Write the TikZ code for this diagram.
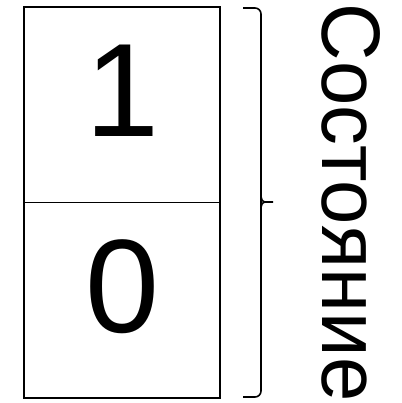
\documentclass[tikz,border=0pt]{standalone}
\usepackage{fontspec}
\setmainfont{Liberation Sans}
\newfontfamily\statefont[FakeStretch=0.96]{Liberation Sans}
\usetikzlibrary{positioning}
\tikzset{
  cell/.style={draw, line width=1.6pt, outer sep=0pt, minimum width=196pt, minimum height=195.5pt,
    font=\fontsize{133}{133}\selectfont, text height=95pt, text depth=31pt},
  brace/.style={line width=1.6pt}
}
\begin{document}
\begin{tikzpicture}[x=1pt,y=-1pt]
\useasboundingbox (0,0) rectangle (401,403);
\node[cell] (one) at (122,104.75) {1};
\node[cell, below=0pt of one] (zero) {0};
%cells

\coordinate (brtop) at (243,8);
\coordinate (brbot) at (243,397);
\coordinate (brtip) at (273,202);
\draw[brace, rounded corners=6] (brtop) -- (261,8) -- (261,202) -- (261,397) -- (brbot);
\draw[brace] (261,193) .. controls (261,200) and (262,202) .. (266,202) -- (brtip);
\draw[brace] (261,211) .. controls (261,204) and (262,202) .. (266,202);
%brace

\node[rotate=-90, anchor=base, inner sep=0pt, font=\statefont\fontsize{83}{83}\selectfont] (state) at (322,202.5) {Состояние};
\end{tikzpicture}
\end{document}
